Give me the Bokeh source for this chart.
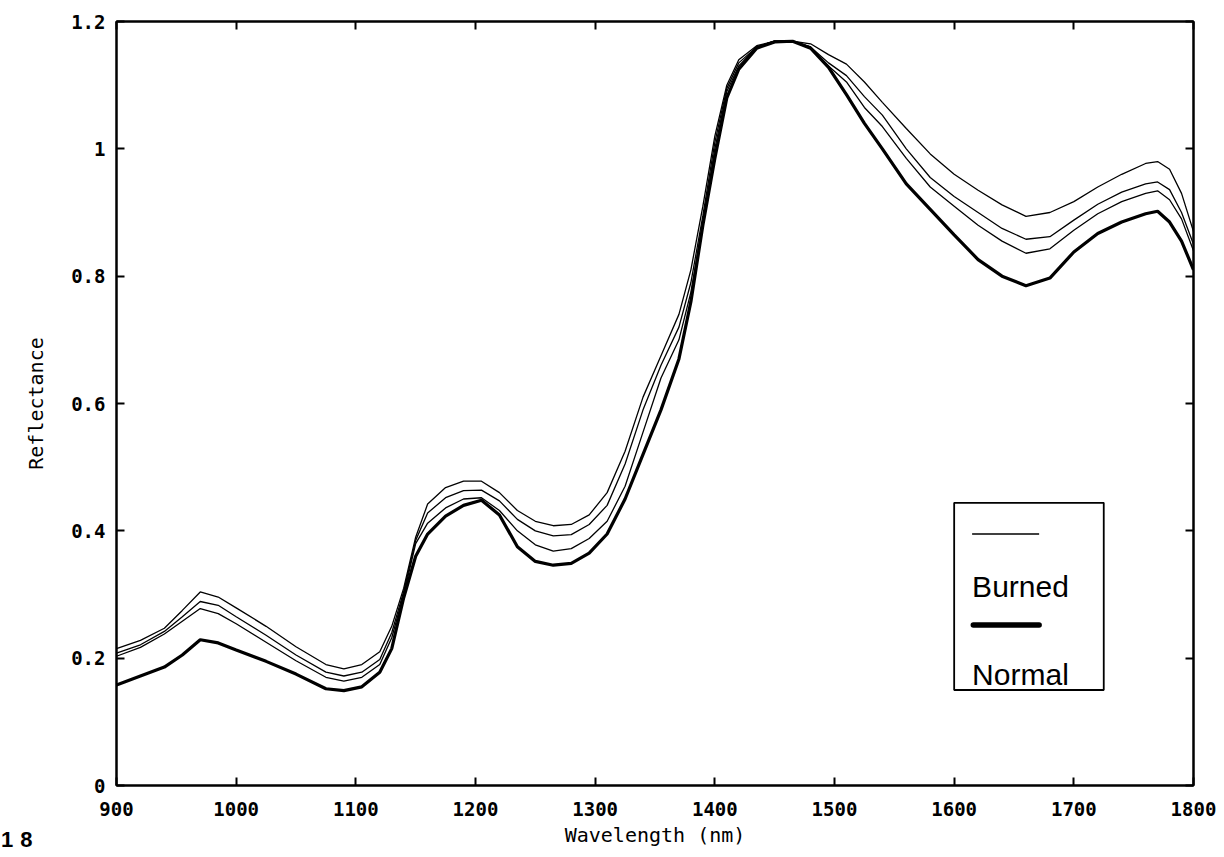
from bokeh.plotting import figure
from bokeh.layouts import column
from bokeh.models import (LinearAxis, FixedTicker, CustomJSTickFormatter, BoxAnnotation,
                          Label, Range1d, Div)
from bokeh.embed import file_html
from bokeh.resources import INLINE

# ---- data ----
wavelength = [900, 920, 940, 955, 970, 985, 1000, 1025, 1050, 1075, 1090, 1105, 1120, 1130,
              1140, 1150, 1160, 1175, 1190, 1205, 1220, 1235, 1250, 1265, 1280, 1295, 1310,
              1325, 1340, 1355, 1370, 1380, 1390, 1400, 1410, 1420, 1435, 1450, 1465, 1480,
              1495, 1510, 1525, 1540, 1560, 1580, 1600, 1620, 1640, 1660, 1680, 1700, 1720,
              1740, 1760, 1770, 1780, 1790, 1800]

normal = [0.158, 0.172, 0.186, 0.205, 0.229, 0.224, 0.213, 0.195, 0.175, 0.152, 0.149, 0.155,
          0.178, 0.215, 0.295, 0.360, 0.395, 0.423, 0.440, 0.448, 0.425, 0.375, 0.352, 0.346,
          0.349, 0.365, 0.395, 0.450, 0.520, 0.590, 0.670, 0.760, 0.880, 0.985, 1.080, 1.125,
          1.158, 1.168, 1.169, 1.158, 1.128, 1.085, 1.040, 1.000, 0.945, 0.905, 0.865, 0.826,
          0.800, 0.785, 0.797, 0.838, 0.867, 0.885, 0.898, 0.902, 0.885, 0.855, 0.810]

burned_1 = [0.215, 0.228, 0.247, 0.275, 0.304, 0.296, 0.279, 0.250, 0.218, 0.190, 0.183, 0.190,
            0.210, 0.250, 0.310, 0.390, 0.442, 0.468, 0.478, 0.478, 0.460, 0.432, 0.415, 0.408,
            0.410, 0.425, 0.460, 0.525, 0.610, 0.675, 0.740, 0.810, 0.910, 1.020, 1.100, 1.140,
            1.162, 1.169, 1.169, 1.165, 1.148, 1.133, 1.105, 1.073, 1.032, 0.992, 0.960, 0.935,
            0.912, 0.894, 0.900, 0.917, 0.940, 0.960, 0.977, 0.980, 0.968, 0.930, 0.870]

burned_2 = [0.208, 0.221, 0.242, 0.265, 0.289, 0.283, 0.265, 0.236, 0.205, 0.178, 0.172, 0.178,
            0.198, 0.240, 0.305, 0.385, 0.428, 0.452, 0.463, 0.464, 0.447, 0.418, 0.400, 0.392,
            0.394, 0.410, 0.440, 0.505, 0.590, 0.660, 0.720, 0.790, 0.895, 1.010, 1.095, 1.135,
            1.160, 1.169, 1.169, 1.160, 1.135, 1.115, 1.082, 1.053, 1.000, 0.955, 0.925, 0.900,
            0.875, 0.858, 0.862, 0.888, 0.913, 0.932, 0.945, 0.948, 0.936, 0.900, 0.850]

burned_3 = [0.203, 0.217, 0.238, 0.258, 0.278, 0.270, 0.254, 0.225, 0.196, 0.170, 0.164, 0.170,
            0.190, 0.232, 0.300, 0.380, 0.412, 0.436, 0.450, 0.452, 0.432, 0.400, 0.378, 0.368,
            0.372, 0.388, 0.415, 0.470, 0.555, 0.640, 0.700, 0.775, 0.885, 1.000, 1.090, 1.130,
            1.160, 1.169, 1.169, 1.160, 1.130, 1.105, 1.065, 1.035, 0.985, 0.940, 0.910, 0.880,
            0.855, 0.836, 0.843, 0.872, 0.898, 0.917, 0.930, 0.934, 0.920, 0.890, 0.840]

x_ticks = [900, 1000, 1100, 1200, 1300, 1400, 1500, 1600, 1700, 1800]
y_ticks = [0, 0.2, 0.4, 0.6, 0.8, 1.0, 1.2]

# ---- figure ----
TICK_FONT = "DejaVu Sans Mono"
p = figure(width=1216, height=849, output_backend="svg", toolbar_location=None,
           x_range=Range1d(900, 1800), y_range=Range1d(0, 1.2),
           min_border_left=116, min_border_top=21, min_border_right=23, min_border_bottom=62,
           x_axis_label="Wavelength (nm)", y_axis_label="Reflectance")
p.xgrid.visible = False
p.ygrid.visible = False
p.outline_line_color = "black"
p.outline_line_width = 2
p.background_fill_color = "white"
p.border_fill_color = "white"

ylab = CustomJSTickFormatter(code="var s = tick.toFixed(1); return s.endsWith('.0') ? s.slice(0, -2) : s;")
blank = CustomJSTickFormatter(code="return '';")

for ax in p.xaxis:
    ax.ticker = FixedTicker(ticks=x_ticks)
for ax in p.yaxis:
    ax.ticker = FixedTicker(ticks=y_ticks)
    ax.formatter = ylab

for ax in list(p.xaxis) + list(p.yaxis):
    ax.major_tick_in = 8
    ax.major_tick_out = 0
    ax.minor_tick_in = 0
    ax.minor_tick_out = 0
    ax.axis_line_width = 2
    ax.major_tick_line_width = 2
    ax.major_label_text_font = TICK_FONT
    ax.major_label_text_font_style = "bold"
    ax.major_label_text_font_size = "19px"
    ax.major_label_text_color = "black"
    ax.axis_label_text_font = TICK_FONT
    ax.axis_label_text_font_style = "normal"
    ax.axis_label_text_font_size = "20px"
    ax.axis_label_text_color = "black"

p.xaxis.major_label_standoff = 16
p.xaxis.axis_label_standoff = 4
p.yaxis.major_label_standoff = 11
p.yaxis.axis_label_standoff = 20

top_axis = LinearAxis(ticker=FixedTicker(ticks=x_ticks), formatter=blank,
                      major_tick_in=8, major_tick_out=0, minor_tick_in=0, minor_tick_out=0,
                      axis_line_width=2, major_tick_line_width=2,
                      major_label_text_font_size="1px", major_label_standoff=0)
right_axis = LinearAxis(ticker=FixedTicker(ticks=y_ticks), formatter=blank,
                        major_tick_in=8, major_tick_out=0, minor_tick_in=0, minor_tick_out=0,
                        axis_line_width=2, major_tick_line_width=2,
                        major_label_text_font_size="1px", major_label_standoff=0)
p.add_layout(top_axis, "above")
p.add_layout(right_axis, "right")

# ---- legend box (drawn under the glyphs) ----
p.add_layout(BoxAnnotation(left=1600, right=1725, bottom=0.150, top=0.444,
                           fill_color="white", fill_alpha=1.0,
                           line_color="black", line_alpha=1.0, line_width=1.8,
                           level="underlay"))

# ---- curves ----
for series in (burned_1, burned_2, burned_3):
    p.line(wavelength, series, line_color="black", line_width=1.3)
p.line(wavelength, normal, line_color="black", line_width=3.2)

# ---- legend samples and texts ----
p.segment(x0=[1615], y0=[0.395], x1=[1671], y1=[0.395], line_color="black", line_width=1.4)
p.segment(x0=[1616], y0=[0.252], x1=[1671], y1=[0.252], line_color="black", line_width=5.5,
          line_cap="round")
p.add_layout(Label(x=1615, y=0.312, text="Burned", text_font="Liberation Sans",
                   text_font_size="30px", text_color="black", text_baseline="alphabetic"))
p.add_layout(Label(x=1615, y=0.174, text="Normal", text_font="Liberation Sans",
                   text_font_size="30px", text_color="black", text_baseline="alphabetic"))

# ---- figure number, drawn in the page below the plot's left corner ----
fig_no = Div(text='<span style="font-family: \'Liberation Sans\', Arial, sans-serif; '
                  'font-weight: bold; font-size: 22px; letter-spacing: 7px; '
                  'line-height: 26px; color: black;">18</span>',
             width=50, height=26,
             styles={"margin-top": "-22px", "margin-left": "1px"})

layout = column(p, fig_no, spacing=0)
open("out.html", "w").write(file_html(layout, INLINE))
